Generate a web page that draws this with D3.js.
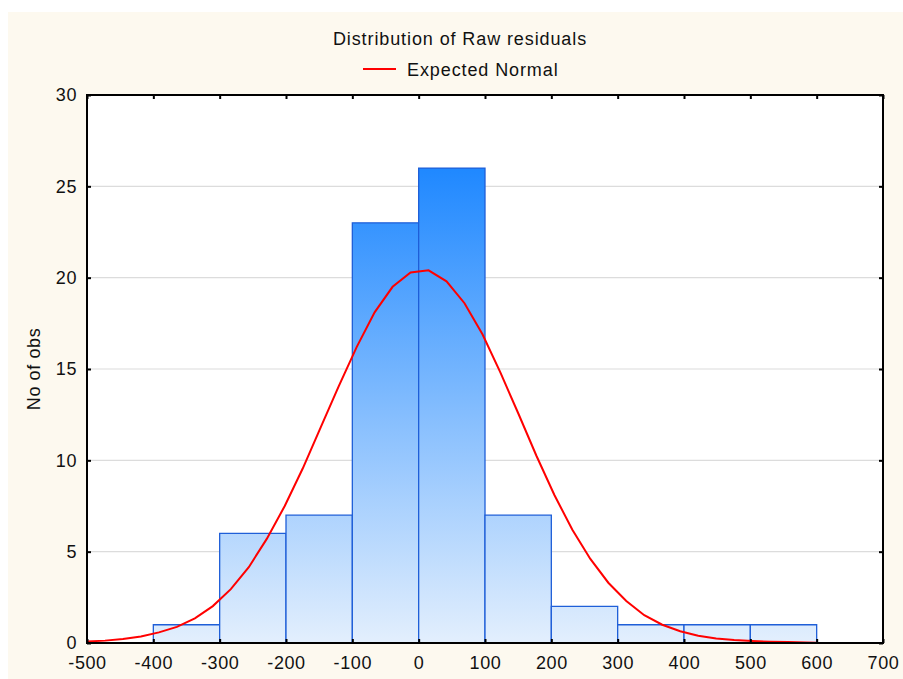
<!DOCTYPE html>
<html>
<head>
<meta charset="utf-8">
<script src="https://cdn.jsdelivr.net/npm/d3@7"></script>
<style>
  body { margin: 0; background: #fff; }
  text { font-family: "Liberation Sans", Arial, sans-serif; fill: #111; }
</style>
</head>
<body>
<svg id="chart" width="903" height="679"></svg>
<script>
// histogram bins (lower edges) and counts
const binStarts = [-500, -400, -300, -200, -100, 0, 100, 200, 300, 400, 500];
const binWidth = 100;
const counts = [0, 1, 6, 7, 23, 26, 7, 2, 1, 1, 1];

// expected normal curve
const normalX = [-500, -472.9, -445.8, -418.7, -391.6, -364.5, -337.4, -310.3, -283.2, -256.1,
  -229, -201.9, -174.8, -147.7, -120.6, -93.5, -66.4, -39.3, -12.2, 14.9,
  42, 69.1, 96.2, 123.3, 150.4, 177.5, 204.6, 231.7, 258.8, 285.9,
  313, 340.1, 367.2, 394.3, 421.4, 448.5, 475.6, 502.7, 529.8, 556.9, 584, 600];
const normalY = [0.08, 0.13, 0.22, 0.36, 0.58, 0.88, 1.35, 2.02, 2.95, 4.15,
  5.7, 7.5, 9.55, 11.8, 14.05, 16.2, 18.1, 19.5, 20.28, 20.4,
  19.8, 18.6, 16.9, 14.8, 12.55, 10.25, 8.1, 6.2, 4.6, 3.3,
  2.3, 1.52, 1.0, 0.64, 0.4, 0.25, 0.16, 0.11, 0.07, 0.05, 0.03, 0.02];

const xTicks = d3.range(-500, 701, 100);
const yTicks = [0, 5, 10, 15, 20, 25, 30];

const svg = d3.select("#chart");
const plotL = 87, plotR = 883, plotT = 95, plotB = 643;

const x = d3.scaleLinear().domain([-500, 700]).range([plotL, plotR]);
const y = d3.scaleLinear().domain([0, 30]).range([plotB, plotT]);

// cream backdrop
svg.append("rect")
  .attr("x", 8).attr("y", 12).attr("width", 895).attr("height", 667)
  .attr("fill", "#fdf9ef");
svg.append("rect")
  .attr("x", plotL).attr("y", plotT)
  .attr("width", plotR - plotL).attr("height", plotB - plotT)
  .attr("fill", "#fff");

// bar gradient tied to plot coordinates
const grad = svg.append("defs").append("linearGradient")
  .attr("id", "barFill")
  .attr("gradientUnits", "userSpaceOnUse")
  .attr("x1", 0).attr("x2", 0)
  .attr("y1", y(0)).attr("y2", y(26));
grad.append("stop").attr("offset", 0).attr("stop-color", "#e3effd");
grad.append("stop").attr("offset", 1).attr("stop-color", "#1f88ff");

// gridlines
svg.append("g")
  .selectAll("line")
  .data(yTicks.filter(d => d > 0 && d < 30))
  .join("line")
  .attr("x1", plotL).attr("x2", plotR)
  .attr("y1", d => y(d)).attr("y2", d => y(d))
  .attr("stroke", "#dcdcdc")
  .attr("stroke-width", 1.2);

// bars
svg.append("g")
  .selectAll("path")
  .data(binStarts.map((s, i) => ({ start: s, count: counts[i] })))
  .join("path")
  .attr("d", d => `M${x(d.start)},${y(0)}V${y(d.count)}H${x(d.start + binWidth)}V${y(0)}Z`)
  .attr("fill", "url(#barFill)")
  .attr("stroke", "#1f5fd8")
  .attr("stroke-width", 1.3);

// normal curve
const line = d3.line()
  .x((d, i) => x(normalX[i]))
  .y(d => y(d));
svg.append("path")
  .datum(normalY)
  .attr("d", line)
  .attr("fill", "none")
  .attr("stroke", "#ff0000")
  .attr("stroke-width", 2);

// axes with inward ticks (plain hyphen for negatives)
const fontSize = "18px";
const plain = d => String(d);
const bottomAxis = svg.append("g")
  .attr("transform", `translate(0,${plotB})`)
  .call(d3.axisBottom(x).tickValues(xTicks).tickFormat(plain).tickSize(-4).tickPadding(13).tickSizeOuter(0));
const topAxis = svg.append("g")
  .attr("transform", `translate(0,${plotT})`)
  .call(d3.axisTop(x).tickValues(xTicks).tickSize(-4).tickFormat("").tickSizeOuter(0));
const leftAxis = svg.append("g")
  .attr("transform", `translate(${plotL},0)`)
  .call(d3.axisLeft(y).tickValues(yTicks).tickFormat(plain).tickSize(-4).tickPadding(10).tickSizeOuter(0));
const rightAxis = svg.append("g")
  .attr("transform", `translate(${plotR},0)`)
  .call(d3.axisRight(y).tickValues(yTicks).tickSize(-4).tickFormat("").tickSizeOuter(0));

[bottomAxis, topAxis, leftAxis, rightAxis].forEach(g => {
  g.select(".domain").remove();
  g.selectAll(".tick line").attr("stroke", "#000").attr("stroke-width", 2);
  g.selectAll("text")
    .style("font-family", '"Liberation Sans", Arial, sans-serif')
    .style("font-size", fontSize)
    .style("letter-spacing", "0.6px")
    .attr("fill", "#111");
});

// frame
svg.append("rect")
  .attr("x", plotL).attr("y", plotT)
  .attr("width", plotR - plotL).attr("height", plotB - plotT)
  .attr("fill", "none")
  .attr("stroke", "#000")
  .attr("stroke-width", 2);

// title and legend
svg.append("text")
  .attr("x", 460).attr("y", 45)
  .attr("text-anchor", "middle")
  .style("font-size", fontSize)
  .style("letter-spacing", "0.9px")
  .text("Distribution of Raw residuals");

svg.append("line")
  .attr("x1", 363).attr("x2", 396)
  .attr("y1", 69).attr("y2", 69)
  .attr("stroke", "#ff0000")
  .attr("stroke-width", 2);
svg.append("text")
  .attr("x", 407).attr("y", 76)
  .style("font-size", fontSize)
  .style("letter-spacing", "0.9px")
  .text("Expected Normal");

// y axis title
svg.append("text")
  .attr("transform", `translate(40,${(plotT + plotB) / 2}) rotate(-90)`)
  .attr("text-anchor", "middle")
  .style("font-size", fontSize)
  .style("letter-spacing", "0.6px")
  .text("No of obs");
</script>
</body>
</html>
